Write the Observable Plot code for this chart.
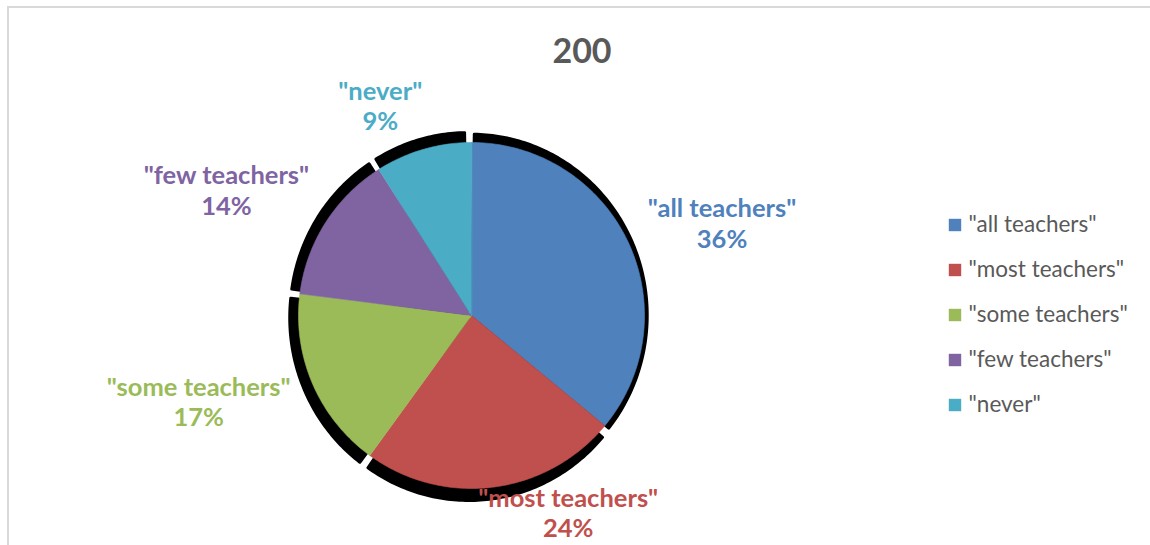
<!DOCTYPE html>
<html><head><meta charset="utf-8">
<script src="https://cdn.jsdelivr.net/npm/d3@7"></script>
<script src="https://cdn.jsdelivr.net/npm/@observablehq/plot@0.6"></script>
<style>
html,body{margin:0;padding:0;background:#fff;overflow:hidden;}
#chart{position:relative;width:1150px;height:545px;font-family:Lato,"Open Sans",sans-serif;}
#chart > *{position:absolute;}
#frame{left:7px;top:6px;width:1200px;height:600px;border-left:2px solid #d9d9d9;border-top:2px solid #d9d9d9;}
#title{left:0;top:33px;width:1164px;text-align:center;font-size:34px;font-weight:bold;color:#595959;line-height:1;}
#legend{left:940px;top:202px;}
</style></head><body><div id="chart"></div>
<script>
// ---- data ----
const categories = ['"all teachers"', '"most teachers"', '"some teachers"', '"few teachers"', '"never"'];
const values = [36, 24, 17, 14, 9];
const colors = ["#4F81BD", "#C0504D", "#9BBB59", "#8064A2", "#4BACC6"];
const titleText = "200";

// ---- layout ----
const W = 1150, H = 545, cx = 471, cy = 315, R = 173;
// shadow style: small explode along bisector, elliptical growth, global offset, angular trim
const sExplode = 3 / R, sGrowX = 3 / R, sGrowY = 8 / R, sOffX = -3 / R, sOffY = -1 / R;
const sTrim = Math.PI / 180;
const labelNudge = [[94, -19], [75, 25], [-114, 17], [-99, -33], [-43, -44]];

const total = d3.sum(values);
const arcs = d3.pie().sort(null).value(d => d)(values);
const slices = [], shadows = [];
arcs.forEach((a, i) => {
  const key = categories[i];
  const n = Math.max(2, Math.ceil((a.endAngle - a.startAngle) / (Math.PI / 180)));
  const mid = (a.startAngle + a.endAngle) / 2;
  const ox = Math.sin(mid) * sExplode + sOffX, oy = Math.cos(mid) * sExplode + sOffY;
  slices.push({key, x: 0, y: 0});
  shadows.push({key, x: ox, y: oy});
  const s0 = a.startAngle + sTrim, s1 = a.endAngle - sTrim;
  for (let k = 0; k <= n; k++) {
    const t = a.startAngle + (a.endAngle - a.startAngle) * k / n;
    slices.push({key, x: Math.sin(t), y: Math.cos(t)});
    const u = s0 + (s1 - s0) * k / n;
    shadows.push({key, x: ox + Math.sin(u) * (1 + sGrowX), y: oy + Math.cos(u) * (1 + sGrowY)});
  }
});
const labels = arcs.map((a, i) => {
  const mid = (a.startAngle + a.endAngle) / 2;
  return {
    key: categories[i],
    text: `${categories[i]}\n${Math.round(values[i] / total * 100)}%`,
    x: Math.sin(mid) + labelNudge[i][0] / R,
    y: Math.cos(mid) - labelNudge[i][1] / R
  };
});

const chart = document.getElementById("chart");

const main = Plot.plot({
  width: W, height: H, margin: 0,
  x: {domain: [-1, 1], range: [cx - R, cx + R], axis: null},
  y: {domain: [-1, 1], range: [cy + R, cy - R], axis: null},
  color: {domain: categories, range: colors},
  style: {background: "transparent", overflow: "visible"},
  marks: [
    Plot.line(shadows, {x: "x", y: "y", z: "key", fill: "black", stroke: "black", strokeWidth: 3, strokeLinejoin: "round", curve: "linear-closed"}),
    Plot.line(slices, {x: "x", y: "y", z: "key", fill: "key", stroke: "key", strokeWidth: 0.6, curve: "linear-closed"}),
    Plot.text(labels, {x: "x", y: "y", text: "text", fill: "key", fontSize: 25.5, fontWeight: "bold", lineHeight: 1.2, fontFamily: "Lato"})
  ]
});
main.style.left = "0px"; main.style.top = "0px";
chart.appendChild(main);

const frame = document.createElement("div");
frame.id = "frame";
chart.appendChild(frame);

const title = document.createElement("div");
title.id = "title";
title.textContent = titleText;
chart.appendChild(title);

const legend = Plot.plot({
  width: 220, height: 225, margin: 0,
  x: {domain: [0, 1], range: [14.5, 210], axis: null},
  y: {type: "band", domain: categories, range: [0, 225], padding: 0, axis: null},
  color: {domain: categories, range: colors},
  style: {background: "transparent", overflow: "visible"},
  marks: [
    Plot.dot(categories, {x: () => 0, y: d => d, fill: d => d, symbol: "square", r: 7}),
    Plot.text(categories, {x: () => 0, y: d => d, text: d => d, dx: 13.5, textAnchor: "start", fill: "#595959", fontSize: 22.5, fontFamily: "Lato"})
  ]
});
legend.id = "legend";
chart.appendChild(legend);
</script>
</body></html>
